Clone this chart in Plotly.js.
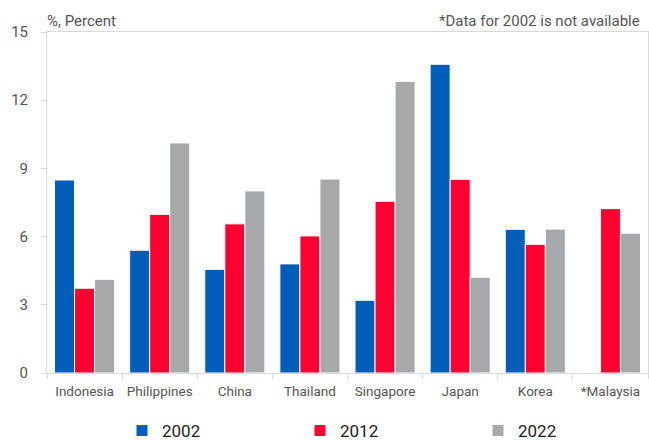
<!DOCTYPE html>
<html><head><meta charset="utf-8">
<script src="https://cdn.plot.ly/plotly-3.0.1.min.js"></script>
<style>body{margin:0;padding:0;}#chart{width:649px;height:440px;}</style>
</head><body><div id="chart"></div>
<script>
const categories = ["Indonesia","Philippines","China","Thailand","Singapore","Japan","Korea","*Malaysia"];
const v2002 = [8.49, 5.40, 4.56, 4.80, 3.20, 13.58, 6.32, null];
const v2012 = [3.73, 6.98, 6.56, 6.03, 7.55, 8.52, 5.66, 7.23];
const v2022 = [4.12, 10.12, 8.01, 8.53, 12.83, 4.21, 6.33, 6.15];
const yTicks = [0, 3, 6, 9, 12, 15];

const font = "Roboto, 'Open Sans', sans-serif";
const mk = (name, y, color) => ({
  type: 'bar', name: name, x: categories, y: y,
  marker: {color: color, line: {color: '#ffffff', width: 1}},
  hoverinfo: 'skip'
});
const data = [
  mk('2002', v2002, '#005EB8'),
  mk('2012', v2012, '#FF0030'),
  mk('2022', v2022, '#A7A8AA')
];
const layout = {
  width: 649, height: 440,
  margin: {l: 47, r: 1, t: 32, b: 67},
  paper_bgcolor: '#ffffff', plot_bgcolor: '#ffffff',
  font: {family: font, color: '#555555', size: 13},
  barmode: 'group', bargap: 0.2, bargroupgap: 0,
  showlegend: true,
  legend: {
    orientation: 'h', xref: 'container', yref: 'container',
    x: 122/649, xanchor: 'left', y: 9/440, yanchor: 'middle',
    entrywidth: 133, entrywidthmode: 'pixels',
    font: {size: 17, color: '#222222', family: font},
    itemwidth: 30, traceorder: 'normal'
  },
  xaxis: {
    type: 'category', showgrid: false, zeroline: false,
    showline: true, linecolor: '#d9d9d9', linewidth: 1, mirror: true,
    ticks: 'outside', tickson: 'boundaries', ticklen: 5, tickcolor: '#d9d9d9',
    tickangle: 0,
    tickfont: {size: 13.5, color: '#555555'}, ticklabelstandoff: 6
  },
  yaxis: {
    range: [0, 15], tickvals: yTicks, ticktext: yTicks.map(String),
    showgrid: false, zeroline: false,
    showline: true, linecolor: '#d9d9d9', linewidth: 1, mirror: true,
    ticks: 'outside', ticklen: 5, tickcolor: '#d9d9d9',
    tickfont: {size: 15, color: '#555555'}, ticklabelstandoff: 10
  },
  annotations: [
    {text: '%, Percent', xref: 'paper', yref: 'paper', x: 0, y: 1, xanchor: 'left', yanchor: 'bottom',
     showarrow: false, font: {size: 15, color: '#555555'}, xshift: -2},
    {text: '*Data for 2002 is not available', xref: 'paper', yref: 'paper', x: 1, y: 1, xanchor: 'right', yanchor: 'bottom',
     showarrow: false, font: {size: 15, color: '#555555'}, xshift: -6}
  ]
};
Plotly.newPlot('chart', data, layout, {displayModeBar: false, staticPlot: true});
</script>
</body></html>
